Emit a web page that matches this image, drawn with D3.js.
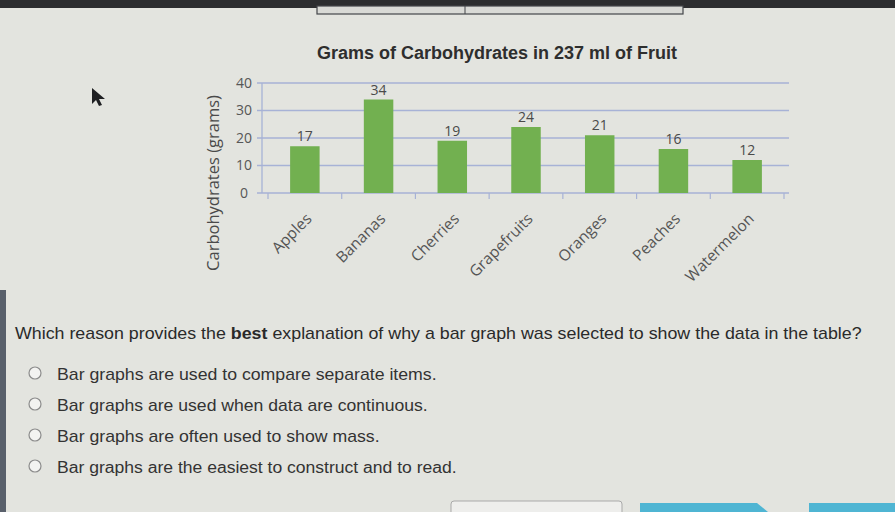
<!DOCTYPE html>
<html>
<head>
<meta charset="utf-8">
<script src="https://cdn.jsdelivr.net/npm/d3@7"></script>
<style>
  html, body { margin: 0; padding: 0; background: #e3e4df; }
  svg { display: block; }
</style>
</head>
<body>
<svg id="chart" width="895" height="512"></svg>
<script>
const categories = ["Apples", "Bananas", "Cherries", "Grapefruits", "Oranges", "Peaches", "Watermelon"];
const carbs = [17, 34, 19, 24, 21, 16, 12];
const yTicks = [0, 10, 20, 30, 40];
const chartTitle = "Grams of Carbohydrates in 237 ml of Fruit";
const yLabel = "Carbohydrates (grams)";
const questionParts = [
  {text: "Which reason provides the ", bold: false},
  {text: "best", bold: true},
  {text: " explanation of why a bar graph was selected to show the data in the table?", bold: false}
];
const answers = [
  "Bar graphs are used to compare separate items.",
  "Bar graphs are used when data are continuous.",
  "Bar graphs are often used to show mass.",
  "Bar graphs are the easiest to construct and to read."
];

const svg = d3.select("#chart");
const W = 895, H = 512;

// background / screen chrome
svg.append("rect").attr("width", W).attr("height", H).attr("fill", "#e3e4df");
svg.append("rect").attr("x", 0).attr("y", 0).attr("width", W).attr("height", 8).attr("fill", "#2c2d2f");
svg.append("rect").attr("x", 317).attr("y", 6).attr("width", 366).attr("height", 8)
  .attr("fill", "#d9dad6").attr("stroke", "#44464a").attr("stroke-width", 1.2);
svg.append("line").attr("x1", 465).attr("x2", 465).attr("y1", 6).attr("y2", 14).attr("stroke", "#44464a");
svg.append("rect").attr("x", 0).attr("y", 290).attr("width", 6).attr("height", 222).attr("fill", "#59606b");

// cursor
svg.append("path").attr("d", "M92,88 L92,104 L96,100 L99,106 L102,105 L99,99 L105,99 Z").attr("fill", "#1e1f22");

// scales
const x = d3.scaleBand().domain(categories).range([268, 784]).paddingInner(0.6).paddingOuter(0.3);
const y = d3.scaleLinear().domain([0, 40]).range([193, 83]);

const gridColor = "#a7b2d6";
const g = svg.append("g");

// gridlines
g.selectAll("line.grid").data(yTicks).join("line")
  .attr("x1", 257).attr("x2", 789)
  .attr("y1", d => y(d)).attr("y2", d => y(d))
  .attr("stroke", gridColor).attr("stroke-width", 1.3);

// y axis line
g.append("line").attr("x1", 262).attr("x2", 262).attr("y1", y(40)).attr("y2", y(0))
  .attr("stroke", gridColor).attr("stroke-width", 1.3);

// y tick labels
g.selectAll("text.ytick").data(yTicks).join("text")
  .attr("x", 244).attr("y", d => y(d)).attr("dy", "0.35em")
  .attr("text-anchor", "middle")
  .attr("font-family", "Open Sans, sans-serif").attr("font-size", 14).attr("fill", "#575757")
  .text(d => d);

// x axis ticks at band boundaries
const bounds = categories.map(c => x(c) - x.step() * x.paddingInner() / 2).concat([x.range()[1]]);
g.selectAll("line.xtick").data(bounds).join("line")
  .attr("x1", d => d).attr("x2", d => d).attr("y1", y(0)).attr("y2", y(0) + 6)
  .attr("stroke", gridColor).attr("stroke-width", 1.2);

// bars
g.selectAll("rect.bar").data(carbs).join("rect")
  .attr("x", (d, i) => x(categories[i]))
  .attr("width", x.bandwidth())
  .attr("y", d => y(d))
  .attr("height", d => y(0) - y(d))
  .attr("fill", "#72b050");

// value labels
g.selectAll("text.val").data(carbs).join("text")
  .attr("x", (d, i) => x(categories[i]) + x.bandwidth() / 2)
  .attr("y", d => y(d) - 5)
  .attr("text-anchor", "middle")
  .attr("font-family", "Open Sans, sans-serif").attr("font-size", 14).attr("fill", "#4a4a4a")
  .text(d => d);

// category labels
g.selectAll("text.cat").data(categories).join("text")
  .attr("transform", d => `translate(${x(d) + x.bandwidth() / 2 + 4},${y(0) + 23}) rotate(-45)`)
  .attr("text-anchor", "end")
  .attr("dy", "0.35em")
  .attr("font-family", "Open Sans, sans-serif").attr("font-size", 15.5).attr("fill", "#555")
  .text(d => d);

// y label
svg.append("text")
  .attr("transform", "translate(219,183) rotate(-90)")
  .attr("text-anchor", "middle")
  .attr("font-family", "Open Sans, sans-serif").attr("font-size", 16.5).attr("fill", "#4a4a4a")
  .text(yLabel);

// title
svg.append("text")
  .attr("x", 497).attr("y", 59).attr("text-anchor", "middle")
  .attr("font-family", "Liberation Sans, Arial, sans-serif").attr("font-weight", "bold")
  .attr("font-size", 18).attr("fill", "#2e2e2e")
  .text(chartTitle);

// helper: fit text horizontally between x0 and x1
function fitText(sel, x0, x1) {
  const w = sel.node().getComputedTextLength();
  const sx = (x1 - x0) / w;
  const yv = +sel.attr("y");
  sel.attr("x", 0).attr("y", 0).attr("transform", `translate(${x0},${yv}) scale(${sx},1)`);
}

// question
const q = svg.append("text").attr("x", 15).attr("y", 339)
  .attr("font-family", "Liberation Sans, Arial, sans-serif").attr("font-size", 17).attr("fill", "#2a2a2a");
q.selectAll("tspan").data(questionParts).join("tspan")
  .attr("font-weight", d => d.bold ? "bold" : "normal")
  .text(d => d.text);
fitText(q, 15, 862);

// answers
const answerEnds = [437, 428, 380, 457];
const answerY = [374, 405, 436, 467];
answers.forEach((a, i) => {
  svg.append("circle").attr("cx", 35).attr("cy", answerY[i] - 1).attr("r", 6)
    .attr("fill", "#f3f3f1").attr("stroke", "#8c8c8c").attr("stroke-width", 1.2);
  const t = svg.append("text").attr("x", 57).attr("y", answerY[i] + 6)
    .attr("font-family", "Liberation Sans, Arial, sans-serif").attr("font-size", 16).attr("fill", "#333")
    .text(a);
  fitText(t, 57, answerEnds[i]);
});

// bottom buttons
svg.append("rect").attr("x", 451).attr("y", 501).attr("width", 171).attr("height", 20).attr("rx", 3)
  .attr("fill", "#eeeeec").attr("stroke", "#a9a9a9");
svg.append("path").attr("d", "M640,503 L757,503 L768,512 L640,512 Z").attr("fill", "#4fb5d3");
svg.append("rect").attr("x", 809).attr("y", 503).attr("width", 86).attr("height", 10).attr("fill", "#4fb5d3");
</script>
</body>
</html>
